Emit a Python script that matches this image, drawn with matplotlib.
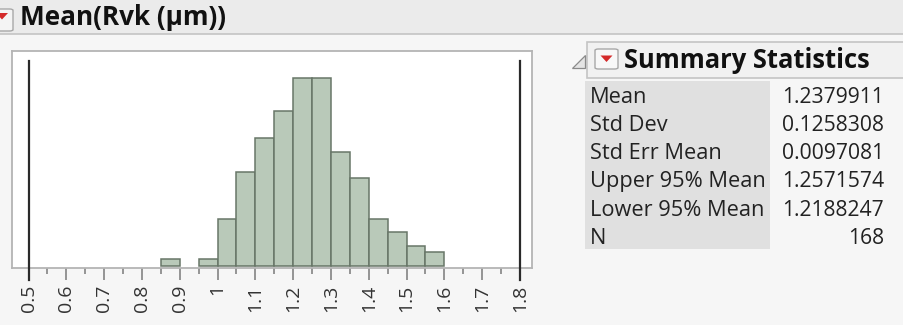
import matplotlib
matplotlib.use("Agg")
import matplotlib.pyplot as plt
from matplotlib.patches import Rectangle, Polygon, FancyBboxPatch
from matplotlib.transforms import blended_transform_factory

# Histogram of Mean(Rvk) — bin starts (width 0.05) and counts
bin_starts = [0.85, 0.95, 1.00, 1.05, 1.10, 1.15, 1.20, 1.25, 1.30, 1.35, 1.40, 1.45, 1.50, 1.55]
counts = [1, 1, 7, 14, 19, 23, 28, 28, 17, 13, 7, 5, 3, 2]
bin_width = 0.05

# Specification limits
lsl, usl = 0.5, 1.8

tick_values = [0.5, 0.6, 0.7, 0.8, 0.9, 1.0, 1.1, 1.2, 1.3, 1.4, 1.5, 1.6, 1.7, 1.8]
tick_labels = ["0.5", "0.6", "0.7", "0.8", "0.9", "1", "1.1", "1.2", "1.3", "1.4", "1.5", "1.6", "1.7", "1.8"]
minor_values = [0.55, 0.65, 0.75, 0.85, 0.95, 1.05, 1.15, 1.25, 1.35, 1.45, 1.55, 1.65, 1.75]

stat_names = ["Mean", "Std Dev", "Std Err Mean", "Upper 95% Mean", "Lower 95% Mean", "N"]
stat_values = ["1.2379911", "0.1258308", "0.0097081", "1.2571574", "1.2188247", "168"]

title = "Mean(Rvk (\u03bcm))"
panel_title = "Summary Statistics"

W, H = 904, 325
FONT = ["Open Sans", "DejaVu Sans"]


def fx(x):
    return x / W


def fy(y):
    return 1 - y / H


fig = plt.figure(figsize=(W / 100, H / 100), dpi=100, facecolor="#f6f6f6")

# Title band
fig.patches.append(Rectangle((0, fy(33.5)), 1, 33.5 / H, transform=fig.transFigure,
                             facecolor="#ebebeb", edgecolor="none", zorder=0))
fig.lines.append(plt.Line2D([0, 1], [fy(33.5), fy(33.5)], transform=fig.transFigure,
                            color="#c4c4c4", lw=1.2))
# Red-triangle menu button (partially off the left edge)
fig.patches.append(FancyBboxPatch((fx(-10), fy(31)), 23 / W, 22 / H, transform=fig.transFigure,
                                  boxstyle="round,pad=0,rounding_size=0.004",
                                  facecolor="#f4f4f4", edgecolor="#a8a8a8", lw=1))
fig.patches.append(Polygon([(fx(-4), fy(13)), (fx(8), fy(13)), (fx(2), fy(19.5))],
                           closed=True, transform=fig.transFigure,
                           facecolor="#d42a2a", edgecolor="none"))
fig.text(fx(20), fy(17.5), title, family=FONT, fontsize=18.8, fontweight="bold",
         color="#111111", ha="left", va="center")

# Histogram axes
ax = fig.add_axes([fx(12), fy(267.7), (531.5 - 12) / W, (267.7 - 51) / H])
ax.set_facecolor("white")
ax.bar(bin_starts, counts, width=bin_width, align="edge",
       color="#b9c9b9", edgecolor="#687668", linewidth=1.1, zorder=2)
ax.set_xlim(0.4562, 1.8305)
ax.set_ylim(-0.3, 32.0)
ax.set_yticks([])
ax.set_xticks(tick_values)
ax.set_xticklabels(tick_labels, rotation=90, family=FONT, fontsize=14, color="#333333")
ax.set_xticks(minor_values, minor=True)
ax.tick_params(axis="x", which="major", length=8.5, width=1.1, color="#7a7a7a", pad=3.5)
ax.tick_params(axis="x", which="minor", length=4.2, width=1.1, color="#7a7a7a")
for s in ax.spines.values():
    s.set_color("#b4b4b4")
    s.set_linewidth(1.3)

# Spec-limit reference lines
trans = blended_transform_factory(ax.transData, ax.transAxes)
for v in (lsl, usl):
    ax.plot([v, v], [-0.057, 0.955], transform=trans, color="#2a2a2a",
            lw=1.6, clip_on=False, zorder=3)

# Summary Statistics header
fig.patches.append(Rectangle((fx(587), fy(78)), (910 - 587) / W, 36 / H, transform=fig.transFigure,
                             facecolor="#f1f1f1", edgecolor="#c4c4c4", lw=1.2))
fig.patches.append(Polygon([(fx(572), fy(68)), (fx(585), fy(68)), (fx(585), fy(55))],
                           closed=True, transform=fig.transFigure,
                           facecolor="#e4e4e4", edgecolor="#8a8a8a", lw=0.9))
fig.patches.append(FancyBboxPatch((fx(595), fy(69)), 23 / W, 20 / H, transform=fig.transFigure,
                                  boxstyle="round,pad=0,rounding_size=0.004",
                                  facecolor="#f8f8f8", edgecolor="#a8a8a8", lw=1))
fig.patches.append(Polygon([(fx(600.5), fy(55.5)), (fx(612.5), fy(55.5)), (fx(606.5), fy(62))],
                           closed=True, transform=fig.transFigure,
                           facecolor="#d42a2a", edgecolor="none"))
fig.text(fx(624), fy(60), panel_title, family=FONT, fontsize=18.4, fontweight="bold",
         color="#111111", ha="left", va="center")

# Statistics table
fig.patches.append(Rectangle((fx(585), fy(249)), (770 - 585) / W, (249 - 81) / H,
                             transform=fig.transFigure, facecolor="#e0e0e0", edgecolor="none"))
for i, (name, val) in enumerate(zip(stat_names, stat_values)):
    y = 97.3 + 28.2 * i
    fig.text(fx(590), fy(y), name, family=FONT, fontsize=15.7, color="#222222",
             ha="left", va="center")
    fig.text(fx(884), fy(y), val, family=FONT, fontsize=15.2, color="#222222",
             ha="right", va="center")

fig.savefig("out.png", dpi=100, facecolor=fig.get_facecolor())
